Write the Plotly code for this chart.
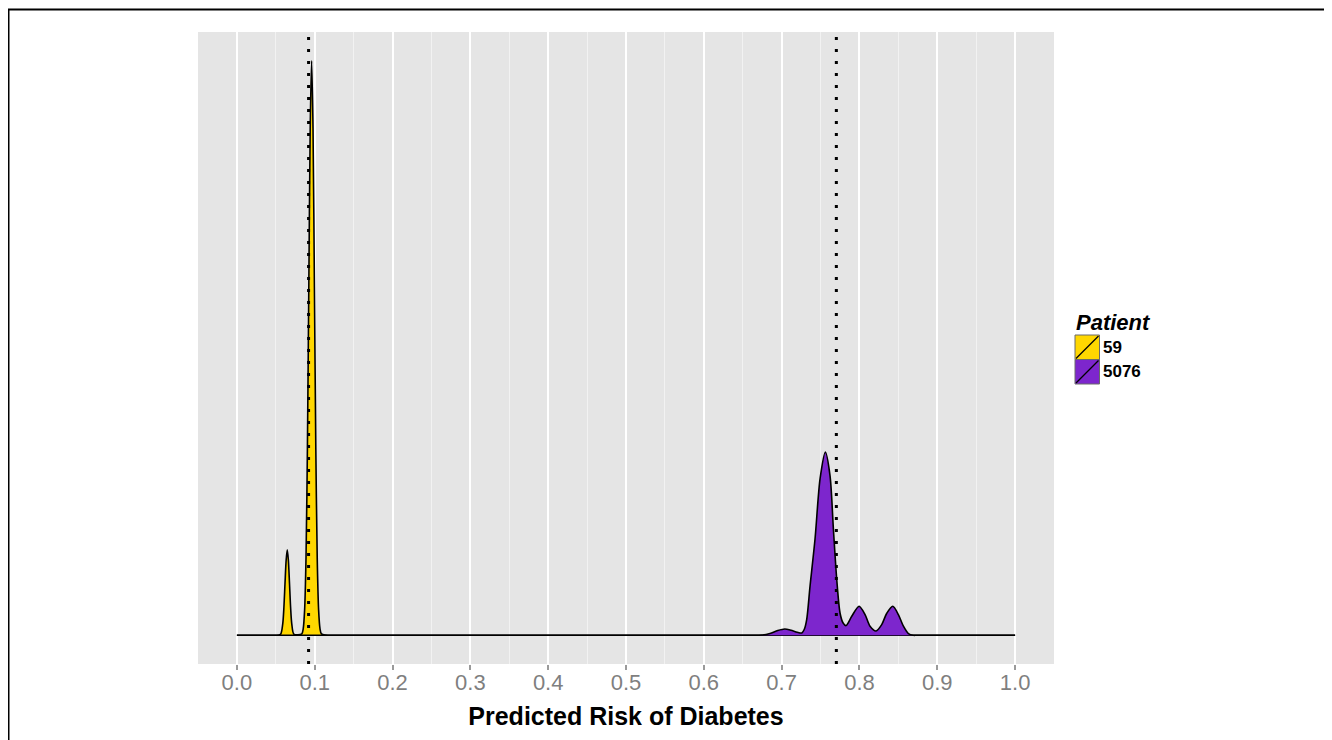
import plotly.graph_objects as go

# ---------------- data ----------------
patients = ["59", "5076"]
fill_colors = ["#FFD700", "#7D26CD"]
mean_risk = [0.0921, 0.7703]

gold_x = [0.000, 0.045, 0.050, 0.0560, 0.0589, 0.0604, 0.0618, 0.0633, 0.0647, 0.0661, 0.0676,
          0.0690, 0.0705, 0.0734, 0.0834, 0.0852, 0.0870, 0.0888, 0.0906, 0.0924, 0.0942,
          0.0960, 0.0978, 0.0996, 0.1014, 0.1032, 0.1050, 0.1068, 0.1086, 0.118, 0.123, 1.000]
gold_y = [0, 0, 0, 0.13, 1.6, 3.9, 7.2, 10.5, 11.9, 10.5, 7.2,
          3.9, 1.6, 0.13, 0.2, 0.9, 3.5, 10.8, 26.0, 48.5, 70.6,
          80.0, 70.6, 48.5, 26.0, 10.8, 3.5, 0.9, 0.2, 0, 0, 0]

purple_x = [0.000, 0.655, 0.660, 0.675, 0.685, 0.695, 0.704, 0.712, 0.720, 0.726, 0.729,
            0.7322, 0.7365, 0.7429, 0.7494, 0.7562, 0.7622, 0.7665, 0.7708, 0.7751, 0.7790,
            0.7828, 0.7901, 0.7995, 0.8072, 0.8136, 0.8213, 0.8286, 0.8351, 0.8428, 0.8500,
            0.8565, 0.8629, 0.8693, 0.874, 1.000]
purple_y = [0, 0, 0, 0.03, 0.24, 0.66, 0.88, 0.70, 0.42, 0.32, 0.8,
            2.19, 6.84, 13.4, 21.8, 25.5, 22.2, 14.8, 7.8, 3.07, 1.7,
            1.35, 2.65, 4.05, 2.89, 1.26, 0.60, 1.49, 3.07, 4.05, 2.89,
            1.26, 0.24, 0, 0, 0]

x_ticks = [0.0, 0.1, 0.2, 0.3, 0.4, 0.5, 0.6, 0.7, 0.8, 0.9, 1.0]
x_tick_labels = ["0.0", "0.1", "0.2", "0.3", "0.4", "0.5", "0.6", "0.7", "0.8", "0.9", "1.0"]

# ---------------- figure ----------------
OFF = 8  # page body margin
W, H = 1332 - OFF, 740 - OFF
L, R, T, B = 198 - OFF, 1054 - OFF, 32 - OFF, 664 - OFF  # plot area in figure px
FONT = "Liberation Sans, Arial, Helvetica, sans-serif"


def px(xw):
    """window x px -> paper x"""
    return (xw - OFF - L) / (R - L)


def py(yw):
    """window y px -> paper y"""
    return (B - (yw - OFF)) / (B - T)


fig = go.Figure()
for xs, ys, name, col in [(gold_x, gold_y, patients[0], fill_colors[0]),
                          (purple_x, purple_y, patients[1], fill_colors[1])]:
    fig.add_trace(go.Scatter(
        x=xs, y=ys, name=name, mode="lines", fill="tozeroy", fillcolor=col,
        line=dict(color="black", width=1.6, shape="spline", smoothing=0.8),
        showlegend=False, hoverinfo="x+y+name"))

shapes = []
for m in mean_risk:
    shapes.append(dict(type="line", xref="x", yref="paper", x0=m, x1=m, y0=0, y1=1,
                       line=dict(color="black", width=3, dash="3px,9px"), layer="above"))

# outer frame (top and left edges)
shapes.append(dict(type="line", xref="paper", yref="paper", x0=px(8), x1=px(1332),
                   y0=py(9.5), y1=py(9.5), line=dict(color="black", width=2)))
shapes.append(dict(type="line", xref="paper", yref="paper", x0=px(8.5), x1=px(8.5),
                   y0=py(9), y1=py(740), line=dict(color="black", width=2)))

# custom legend
annotations = [dict(text="Patient", xref="paper", yref="paper", x=px(1074), y=py(322),
                    xanchor="left", yanchor="middle", showarrow=False,
                    font=dict(family=FONT, size=22, color="black", weight="bold", style="italic"))]
key_top = [335, 359.5]
for i, (name, col) in enumerate(zip(patients, fill_colors)):
    y0, y1 = key_top[i], key_top[i] + 24.5
    shapes.append(dict(type="rect", xref="paper", yref="paper", x0=px(1075), x1=px(1099.5),
                       y0=py(y1), y1=py(y0), fillcolor=col, line=dict(color="#6a6a6a", width=1)))
    shapes.append(dict(type="line", xref="paper", yref="paper", x0=px(1076), x1=px(1098.5),
                       y0=py(y1 - 1), y1=py(y0 + 1), line=dict(color="black", width=1.2)))
    annotations.append(dict(text=name, xref="paper", yref="paper", x=px(1101), y=py((y0 + y1) / 2),
                            xanchor="left", yanchor="middle", showarrow=False,
                            font=dict(family=FONT, size=17, color="black", weight="bold")))

fig.update_layout(
    width=W, height=H,
    margin=dict(l=L, r=W - R, t=T, b=H - B, pad=0),
    paper_bgcolor="white", plot_bgcolor="#e5e5e5",
    shapes=shapes, annotations=annotations, showlegend=False,
    xaxis=dict(range=[-0.05, 1.05], tickmode="array", tickvals=x_ticks, ticktext=x_tick_labels,
               ticks="outside", ticklen=5, tickwidth=1.5, tickcolor="#9a9a9a",
               ticklabelstandoff=-6,
               tickfont=dict(family=FONT, size=22, color="#7f7f7f"),
               showgrid=True, gridcolor="white", gridwidth=1.6, zeroline=False, showline=False,
               minor=dict(tick0=0, dtick=0.05, showgrid=True, gridcolor="#f2f2f2", gridwidth=1, ticks=""),
               title=dict(text="Predicted Risk of Diabetes", standoff=13,
                          font=dict(family=FONT, size=25, color="black", weight="bold"))),
    yaxis=dict(range=[-4, 84], showticklabels=False, showgrid=False, zeroline=False,
               ticks="", showline=False),
)

fig.write_html("out.html")
